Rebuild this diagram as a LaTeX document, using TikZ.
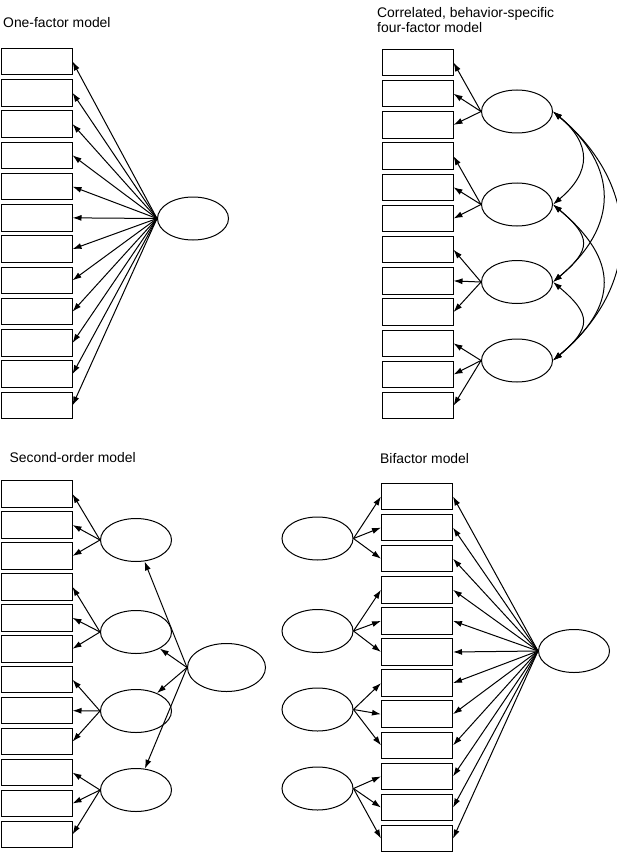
\documentclass[tikz,border=0pt]{standalone}
\usepackage{fontspec}
\setmainfont{Liberation Sans}
\usetikzlibrary{arrows.meta,shapes.geometric}

\tikzset{
  ind/.style={draw, rectangle, line width=1pt, minimum width=71pt, minimum height=26.5pt, inner sep=0pt},
  fac/.style={draw, ellipse, line width=1pt, minimum width=71pt, minimum height=43pt, inner sep=0pt},
  ld/.style={-{Latex[length=9pt,width=6pt]}, line width=1pt},
  cov/.style={{Latex[length=9pt,width=6pt]}-{Latex[length=9pt,width=6pt]}, line width=1pt},
  ttl/.style={anchor=base west, inner sep=0pt, font=\fontsize{13.9}{15.5}\selectfont}
}

\begin{document}
\begin{tikzpicture}[x=1pt,y=-1pt]
\useasboundingbox (0,0) rectangle (617,853);
% one-factor model
\node[ttl] (t1) at (3,28) {One-factor model};
\foreach \i in {1,...,12}
    \node[ind] (a\i) at (36.5,{61.5+31.27*(\i-1)}) {};
\node[fac] (fa) at (193,218.5) {};
\foreach \i in {1,...,12}
    \draw[ld] (fa.west) -- (a\i.east);
% correlated four-factor model
\node[ttl, align=left] (t2) at (377,33) {Correlated, behavior-specific\\four-factor model};
\foreach \i in {1,...,12}
    \node[ind] (b\i) at (417.5,{62.5+31.2*(\i-1)}) {};
\node[fac] (g1) at (517,111.5) {};
\node[fac] (g2) at (517,204.5) {};
\node[fac] (g3) at (517,282) {};
\node[fac] (g4) at (517,360.5) {};
\foreach \k/\i in {1/1,1/2,1/3,2/4,2/5,2/6,3/7,3/8,3/9,4/10,4/11,4/12}
    \draw[ld] (g\k.west) -- (b\i.east);
\draw[cov] (g1.east) to[bend left=50, looseness=1.39] (g2.east);
\draw[cov] (g2.east) to[bend left=50, looseness=1.67] (g3.east);
\draw[cov] (g3.east) to[bend left=50, looseness=1.65] (g4.east);
\draw[cov] (g1.east) to[bend left=50, looseness=1.3] (g3.east);
\draw[cov] (g2.east) to[bend left=50, looseness=1.42] (g4.east);
\draw[cov] (g1.east) to[bend left=50, looseness=1.2] (g4.east);
% second-order model
\node[ttl] (t3) at (9.5,462) {Second-order model};
\foreach \i in {1,...,12}
    \node[ind] (c\i) at (36.5,{494+30.95*(\i-1)}) {};
\node[fac] (s1) at (136,540) {};
\node[fac] (s2) at (136,632) {};
\node[fac] (s3) at (136,711) {};
\node[fac] (s4) at (136,790) {};
\node[fac, minimum width=78pt, minimum height=48pt] (so) at (226.5,667.5) {};
\foreach \k in {1,...,4}
    \draw[ld] (so.west) -- (s\k);
\foreach \k/\i in {1/1,1/2,1/3,2/4,2/5,2/6,3/7,3/8,3/9,4/10,4/11,4/12}
    \draw[ld] (s\k.west) -- (c\i.east);
% bifactor model
\node[ttl] (t4) at (380,463) {Bifactor model};
\foreach \i in {1,...,12}
    \node[ind] (d\i) at (417,{496.5+31.1*(\i-1)}) {};
\node[fac] (h1) at (317.5,538.5) {};
\node[fac] (h2) at (317.5,631) {};
\node[fac] (h3) at (317.5,709.5) {};
\node[fac] (h4) at (317.5,788.5) {};
\node[fac] (gf) at (574,651) {};
\foreach \k/\i in {1/1,1/2,1/3,2/4,2/5,2/6,3/7,3/8,3/9,4/10,4/11,4/12}
    \draw[ld] (h\k.east) -- (d\i.west);
\foreach \i in {1,...,12}
    \draw[ld] (gf.west) -- (d\i.east);
\end{tikzpicture}
\end{document}
